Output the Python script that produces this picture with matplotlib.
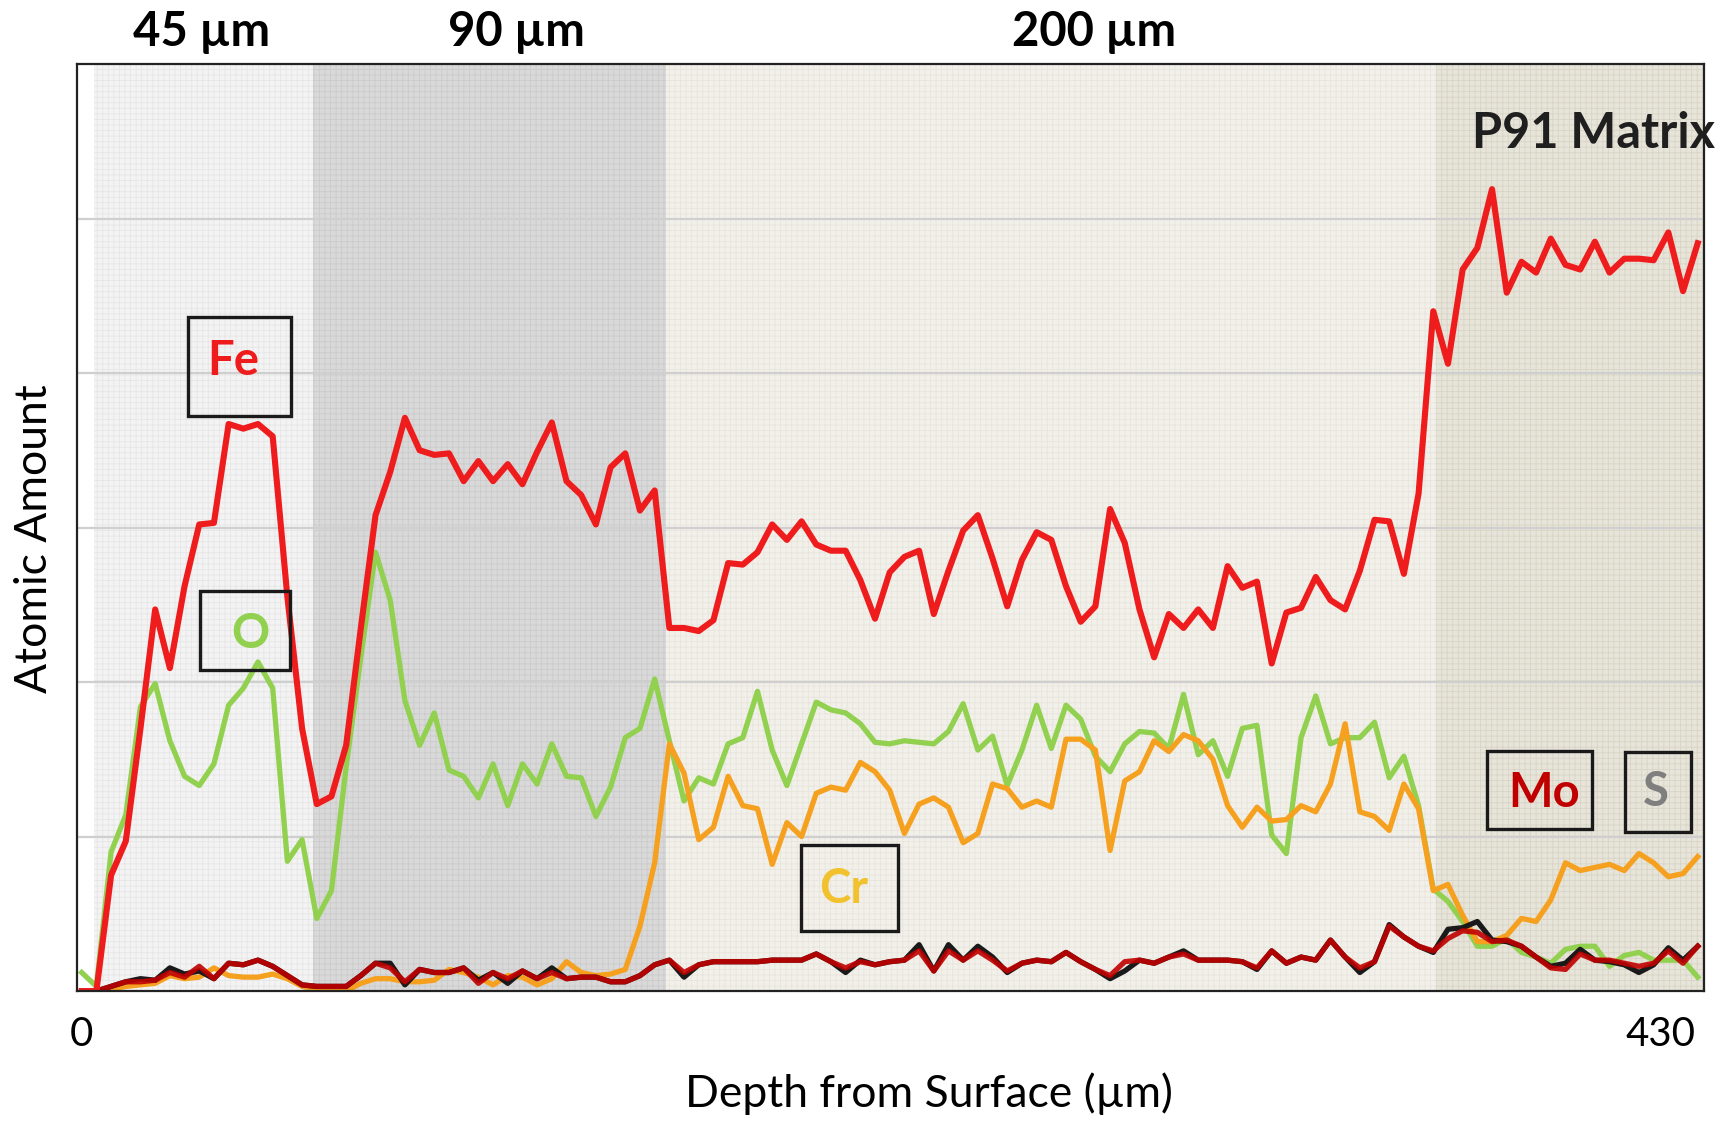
import numpy as np
import matplotlib
matplotlib.use("Agg")
import matplotlib.pyplot as plt
from matplotlib.patches import Rectangle
from matplotlib.transforms import blended_transform_factory

plt.rcParams['font.family'] = ['Lato', 'DejaVu Sans']
plt.rcParams['hatch.linewidth'] = 0.6

# line-scan values, one sample every 4 um
step_um = 4

fe = [0, 0, 0.75, 0.97, 1.7, 2.47, 2.09, 2.62, 3.02, 3.03, 3.67, 3.64, 3.67, 3.59, 2.55, 1.7,
      1.21, 1.26, 1.59, 2.35, 3.08, 3.36, 3.71, 3.5, 3.47, 3.48, 3.3, 3.43, 3.3, 3.41, 3.28, 3.49,
      3.68, 3.3, 3.21, 3.02, 3.39, 3.48, 3.11, 3.24, 2.35, 2.35, 2.33, 2.4, 2.77, 2.76, 2.84, 3.02,
      2.92, 3.04, 2.89, 2.85, 2.85, 2.66, 2.41, 2.71, 2.81, 2.85, 2.44, 2.72, 2.98, 3.08, 2.8, 2.49,
      2.79, 2.97, 2.92, 2.62, 2.39, 2.49, 3.12, 2.9, 2.47, 2.16, 2.44, 2.35, 2.47, 2.35, 2.75, 2.61,
      2.65, 2.12, 2.45, 2.48, 2.68, 2.53, 2.47, 2.72, 3.05, 3.04, 2.7, 3.22, 4.4, 4.06, 4.67, 4.81,
      5.19, 4.52, 4.72, 4.65, 4.87, 4.7, 4.67, 4.85, 4.65, 4.74, 4.74, 4.73, 4.91, 4.53, 4.84]

o = [0.12, 0.03, 0.9, 1.14, 1.84, 1.99, 1.62, 1.39, 1.33, 1.47, 1.85, 1.96, 2.13, 1.96, 0.84, 0.98,
     0.47, 0.65, 1.45, 2.16, 2.84, 2.53, 1.88, 1.59, 1.8, 1.43, 1.39, 1.25, 1.47, 1.2, 1.47, 1.34,
     1.6, 1.39, 1.38, 1.13, 1.32, 1.64, 1.7, 2.02, 1.62, 1.23, 1.38, 1.34, 1.6, 1.64, 1.94, 1.56,
     1.33, 1.6, 1.87, 1.82, 1.8, 1.73, 1.61, 1.6, 1.62, 1.61, 1.6, 1.68, 1.86, 1.56, 1.65, 1.33,
     1.56, 1.85, 1.57, 1.85, 1.76, 1.52, 1.42, 1.6, 1.68, 1.67, 1.57, 1.92, 1.53, 1.62, 1.39, 1.7,
     1.72, 1.01, 0.89, 1.64, 1.91, 1.6, 1.64, 1.64, 1.74, 1.38, 1.52, 1.2, 0.66, 0.58, 0.45, 0.29,
     0.29, 0.34, 0.25, 0.22, 0.18, 0.27, 0.29, 0.29, 0.16, 0.23, 0.25, 0.2, 0.2, 0.2, 0.09]

cr = [0, 0, 0.01, 0.03, 0.04, 0.05, 0.1, 0.08, 0.09, 0.15, 0.1, 0.09, 0.09, 0.11, 0.08, 0.03,
      0.01, 0.01, 0.0, 0.05, 0.08, 0.08, 0.06, 0.06, 0.07, 0.14, 0.12, 0.09, 0.04, 0.1, 0.09, 0.04,
      0.08, 0.19, 0.12, 0.1, 0.11, 0.14, 0.42, 0.83, 1.6, 1.41, 0.98, 1.06, 1.39, 1.2, 1.18, 0.82,
      1.09, 1.0, 1.28, 1.32, 1.3, 1.48, 1.42, 1.3, 1.02, 1.21, 1.25, 1.19, 0.96, 1.02, 1.34, 1.31,
      1.19, 1.23, 1.19, 1.63, 1.63, 1.56, 0.91, 1.36, 1.42, 1.62, 1.55, 1.66, 1.62, 1.5, 1.2, 1.06,
      1.19, 1.1, 1.11, 1.2, 1.16, 1.34, 1.73, 1.16, 1.13, 1.04, 1.34, 1.18, 0.65, 0.69, 0.49, 0.32,
      0.32, 0.36, 0.47, 0.45, 0.59, 0.83, 0.78, 0.8, 0.82, 0.78, 0.89, 0.83, 0.74, 0.76, 0.87]

mo = [0, 0, 0.03, 0.06, 0.06, 0.07, 0.12, 0.09, 0.16, 0.08, 0.18, 0.17, 0.2, 0.16, 0.1, 0.04,
      0.03, 0.03, 0.03, 0.1, 0.18, 0.15, 0.06, 0.14, 0.12, 0.12, 0.15, 0.05, 0.12, 0.08, 0.13, 0.08,
      0.12, 0.08, 0.09, 0.09, 0.06, 0.06, 0.1, 0.17, 0.2, 0.12, 0.17, 0.19, 0.19, 0.19, 0.19, 0.2,
      0.2, 0.2, 0.24, 0.19, 0.15, 0.19, 0.17, 0.19, 0.2, 0.26, 0.13, 0.26, 0.2, 0.26, 0.2, 0.13,
      0.18, 0.2, 0.19, 0.25, 0.19, 0.14, 0.1, 0.19, 0.2, 0.18, 0.22, 0.24, 0.2, 0.2, 0.2, 0.19,
      0.15, 0.26, 0.18, 0.22, 0.2, 0.33, 0.22, 0.15, 0.19, 0.42, 0.35, 0.29, 0.26, 0.34, 0.39, 0.38,
      0.32, 0.33, 0.29, 0.22, 0.15, 0.14, 0.24, 0.2, 0.2, 0.18, 0.16, 0.18, 0.26, 0.18, 0.29]

s = [0, 0, 0.03, 0.06, 0.08, 0.07, 0.15, 0.11, 0.13, 0.08, 0.18, 0.17, 0.2, 0.16, 0.1, 0.04,
     0.03, 0.03, 0.03, 0.1, 0.18, 0.18, 0.04, 0.14, 0.12, 0.12, 0.15, 0.07, 0.12, 0.05, 0.13, 0.08,
     0.15, 0.08, 0.09, 0.09, 0.06, 0.06, 0.1, 0.17, 0.2, 0.09, 0.17, 0.19, 0.19, 0.19, 0.19, 0.2,
     0.2, 0.2, 0.24, 0.19, 0.12, 0.2, 0.17, 0.19, 0.2, 0.3, 0.13, 0.3, 0.2, 0.29, 0.22, 0.12,
     0.18, 0.2, 0.19, 0.25, 0.19, 0.14, 0.08, 0.13, 0.2, 0.18, 0.22, 0.26, 0.2, 0.2, 0.2, 0.19,
     0.14, 0.26, 0.18, 0.22, 0.2, 0.33, 0.22, 0.12, 0.19, 0.43, 0.35, 0.29, 0.25, 0.4, 0.41, 0.45,
     0.33, 0.32, 0.29, 0.22, 0.16, 0.18, 0.27, 0.2, 0.19, 0.17, 0.12, 0.17, 0.28, 0.2, 0.29]

depth = np.arange(len(fe)) * step_um

# zone limits (um) and their shading
zone_edges = [3.4, 63.1, 159.2, 368.8, 442]
zone_faces = ['#F3F3F3', '#D9D9D9', '#F2F0EA', '#E7E4D9']
zone_hatch = ['#E6E6E6', '#CBCBCB', '#E8E5DC', '#D8D4C6']
zone_titles = ['45 µm', '90 µm', '200 µm']
zone_title_x = [32.5, 118.5, 275.6]

fig = plt.figure(figsize=(17.25, 11.23), dpi=100)
ax = fig.add_axes([0.0446, 0.1175, 0.9432, 0.8255])

for i in range(4):
    ax.axvspan(zone_edges[i], zone_edges[i + 1], facecolor=zone_faces[i],
               edgecolor=zone_hatch[i], hatch='+++', linewidth=0, zorder=0)

ax.set_xlim(-1.3, 441.7)
ax.set_ylim(0, 6)
ax.set_yticks([1, 2, 3, 4, 5])
ax.yaxis.grid(True, color='#CFCFCF', linewidth=1.6, zorder=1)
ax.set_axisbelow(True)
ax.tick_params(axis='y', length=0, labelleft=False)
ax.set_xticks([0, 430], ['0', '430'])
ax.tick_params(axis='x', length=0, labelsize=29, pad=18)

for sp in ax.spines.values():
    sp.set_linewidth(1.6)
    sp.set_color('#222222')
    sp.set_zorder(5)

ax.plot(depth, o, color='#92D050', lw=3.8, zorder=3)
ax.plot(depth, cr, color='#F5A11F', lw=3.8, zorder=3)
ax.plot(depth, s, color='#1A1A1A', lw=3.8, zorder=3)
ax.plot(depth, mo, color='#C00000', lw=3.8, zorder=3, alpha=0.9)
ax.plot(depth, fe, color='#EE1C1C', lw=4.4, zorder=4)

# element label boxes
boxes = [
    ('Fe', 28.9, 3.72, 28.2, 0.64, 41.2, 4.08, '#EE1C1C'),
    ('O', 32.2, 2.08, 24.5, 0.51, 45.8, 2.31, '#92D050'),
    ('Cr', 195.9, 0.388, 26.4, 0.557, 207.5, 0.66, '#F2C12E'),
    ('Mo', 382.7, 1.049, 28.6, 0.504, 398.2, 1.28, '#C00000'),
    ('S', 420.2, 1.029, 18.0, 0.518, 428.5, 1.29, '#7F7F7F'),
]
for name, bx, by, bw, bh, tx, ty, col in boxes:
    ax.add_patch(Rectangle((bx, by), bw, bh, fill=False, edgecolor='#1A1A1A',
                           linewidth=2.4, zorder=6))
    ax.text(tx, ty, name, color=col, fontsize=34, fontweight='bold',
            ha='center', va='center', zorder=7)

trans = blended_transform_factory(ax.transData, ax.transAxes)
for title, tx in zip(zone_titles, zone_title_x):
    ax.text(tx, 1.034, title, transform=trans, fontsize=34, fontweight='bold',
            ha='center', va='center')

ax.text(411.5, 5.55, 'P91 Matrix', fontsize=35, fontweight='bold', color='#1F1F1F',
        ha='center', va='center', zorder=7)

ax.set_xlabel('Depth from Surface (µm)', fontsize=32)
ax.xaxis.label.set_va('center')
ax.xaxis.set_label_coords(0.5237, -0.111)
ax.set_ylabel('Atomic Amount', fontsize=32)
ax.yaxis.label.set_va('center')
ax.yaxis.set_label_coords(-0.0262, 0.4876)

fig.savefig('out.png', dpi=100)
